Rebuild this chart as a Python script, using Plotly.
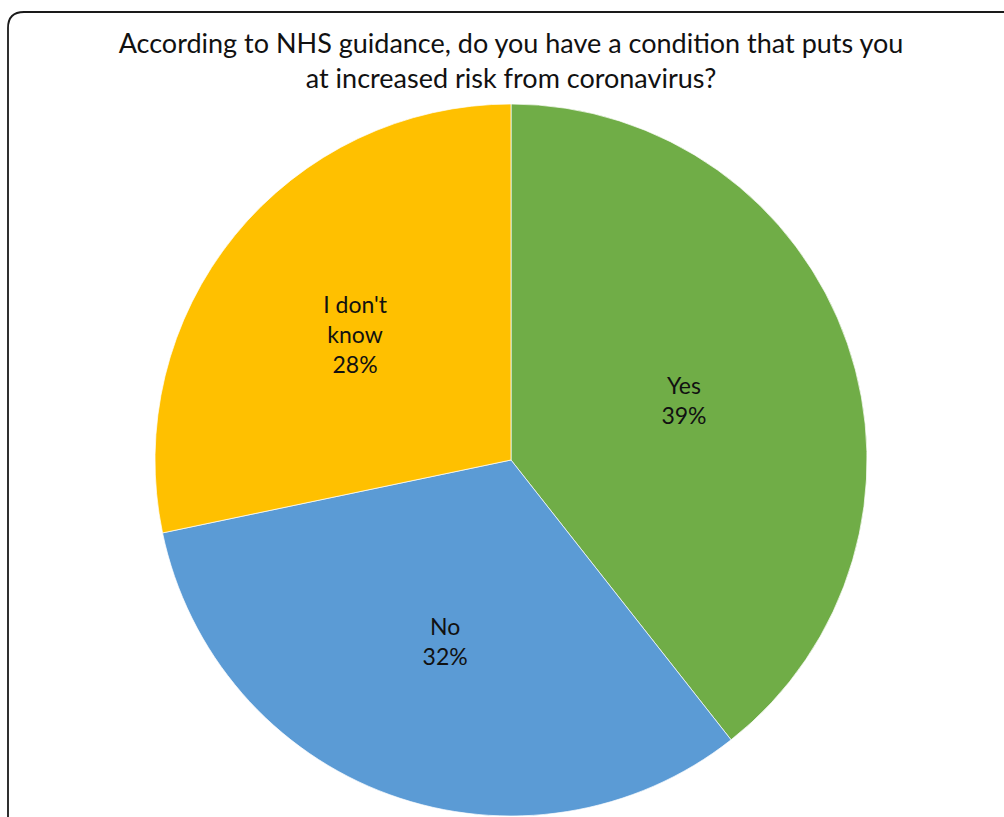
import plotly.graph_objects as go

# Data
categories = ["Yes", "No", "I don't know"]
label_text = ["Yes", "No", "I don't<br>know"]
values = [39, 32, 28]
colors = ["#70AD47", "#5B9BD5", "#FFC000"]

W, H = 1004, 817

def px(x):
    return x / W

def py(y):
    return 1 - y / H

cx, cy, r = 511, 460, 356

fig = go.Figure(
    go.Pie(
        labels=categories,
        values=values,
        text=label_text,
        texttemplate="%{text}<br>%{value}%",
        textposition="inside",
        insidetextorientation="horizontal",
        sort=False,
        direction="clockwise",
        rotation=0,
        marker=dict(colors=colors, line=dict(color="white", width=0.7)),
        textfont=dict(family="Lato, 'Open Sans', sans-serif", size=23, color="#111111"),
        showlegend=False,
        hoverinfo="label+value",
        domain=dict(x=[px(cx - r), px(cx + r)], y=[py(cy + r), py(cy - r)]),
    )
)

fig.update_layout(
    width=W,
    height=H,
    margin=dict(l=0, r=0, t=0, b=0),
    paper_bgcolor="white",
    plot_bgcolor="white",
    title=dict(
        text="According to NHS guidance, do you have a condition that puts you<br>at increased risk from coronavirus?",
        x=px(511),
        xanchor="center",
        xref="paper",
        yref="container",
        y=py(53),
        yanchor="middle",
        font=dict(family="Lato, 'Open Sans', sans-serif", size=27, color="#111111"),
    ),
    shapes=[
        dict(
            type="path",
            xref="paper",
            yref="paper",
            path=(
                f"M {px(1010)},{py(12)} L {px(24)},{py(12)} "
                f"Q {px(8)},{py(12)} {px(8)},{py(28)} L {px(8)},{py(830)}"
            ),
            line=dict(color="#1a1a1a", width=1.8),
        )
    ],
)

fig.write_html("out.html")
